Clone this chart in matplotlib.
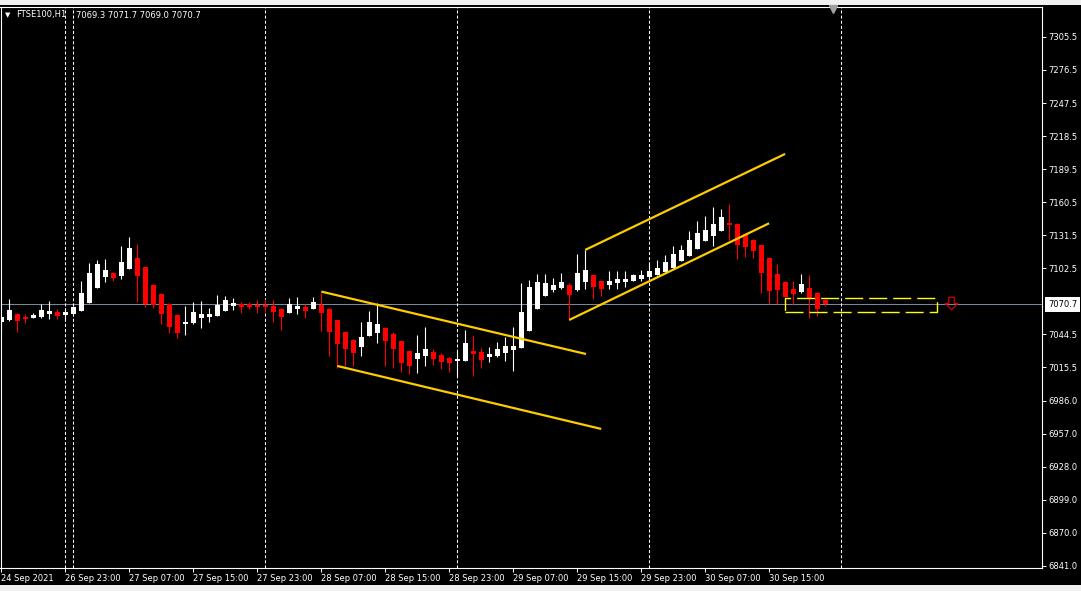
import matplotlib
matplotlib.use('Agg')
import matplotlib.pyplot as plt
import matplotlib.transforms as mtransforms
from matplotlib.patches import Rectangle
import numpy as np

# hourly FTSE100 candles, 24 Sep 2021 15:00 ... 30 Sep 2021
opens = [
    7055.2, 7057.0, 7062.3, 7059.9, 7059.0, 7059.9, 7062.5, 7064.0, 7061.4, 7062.3,
    7065.2, 7072.2, 7085.4, 7095.0, 7098.3, 7095.6, 7102.0, 7111.4, 7103.5, 7087.7,
    7079.8, 7071.0, 7061.4, 7053.5, 7054.6, 7058.8, 7059.9, 7060.8, 7065.2, 7069.6,
    7071.3, 7070.8, 7069.9, 7070.2, 7069.3, 7066.7, 7063.4, 7066.7, 7068.4, 7066.9,
    7070.4, 7066.7, 7057.0, 7046.5, 7039.4, 7033.5, 7042.9, 7045.8, 7049.7, 7044.7,
    7038.6, 7029.8, 7022.8, 7025.4, 7028.9, 7026.3, 7023.6, 7021.0, 7021.0, 7029.8,
    7028.9, 7024.5, 7025.4, 7028.0, 7030.7, 7032.4, 7047.3, 7066.7, 7078.1, 7083.3,
    7085.1, 7087.7, 7083.3, 7090.4, 7096.5, 7091.2, 7087.7, 7089.5, 7090.4, 7091.2,
    7093.0, 7094.8, 7096.5, 7099.2, 7102.7, 7108.8, 7113.2, 7119.4, 7126.4, 7130.8,
    7135.2, 7142.2, 7141.3, 7132.5, 7127.2, 7122.9, 7111.4, 7097.4, 7090.4, 7084.2,
    7081.6, 7085.1, 7080.7, 7074.6]
highs = [
    7060.9, 7075.5, 7063.4, 7062.3, 7063.2, 7071.1, 7073.7, 7066.7, 7067.9, 7069.3,
    7091.2, 7106.8, 7109.4, 7110.3, 7098.7, 7121.9, 7129.8, 7123.7, 7103.9, 7088.2,
    7080.3, 7071.5, 7061.8, 7069.3, 7072.8, 7073.7, 7067.5, 7078.9, 7078.1, 7076.3,
    7072.8, 7072.5, 7074.6, 7075.2, 7074.6, 7067.1, 7076.0, 7076.9, 7071.0, 7076.9,
    7081.0, 7067.1, 7057.4, 7046.9, 7039.9, 7055.2, 7064.9, 7071.7, 7051.1, 7046.5,
    7039.0, 7030.2, 7043.8, 7051.1, 7031.5, 7028.0, 7024.1, 7029.8, 7048.2, 7043.8,
    7032.4, 7033.3, 7037.7, 7042.1, 7050.9, 7089.5, 7092.1, 7097.4, 7097.4, 7093.9,
    7098.3, 7089.1, 7114.9, 7118.5, 7096.9, 7091.7, 7100.0, 7100.0, 7100.0, 7097.4,
    7100.9, 7107.1, 7109.7, 7114.1, 7121.9, 7122.9, 7135.2, 7143.9, 7148.3, 7156.2,
    7154.5, 7158.9, 7141.7, 7133.0, 7127.7, 7123.3, 7111.9, 7106.2, 7090.8, 7091.2,
    7097.4, 7096.5, 7081.1, 7075.0]
lows = [
    7046.7, 7056.4, 7046.7, 7054.6, 7058.8, 7059.0, 7057.6, 7057.6, 7057.0, 7061.8,
    7064.9, 7071.9, 7085.1, 7090.6, 7091.5, 7093.3, 7101.8, 7072.5, 7068.1, 7067.8,
    7053.2, 7045.3, 7041.5, 7044.1, 7053.5, 7050.2, 7055.5, 7060.5, 7064.9, 7065.8,
    7063.4, 7066.9, 7062.9, 7064.3, 7055.5, 7048.2, 7063.2, 7062.5, 7059.0, 7066.7,
    7047.3, 7025.6, 7014.6, 7016.6, 7016.9, 7025.6, 7042.5, 7037.1, 7016.9, 7014.6,
    7011.1, 7009.3, 7010.7, 7016.9, 7017.5, 7013.9, 7011.6, 7008.1, 7020.6, 7008.1,
    7014.8, 7020.1, 7024.9, 7021.0, 7012.2, 7032.0, 7046.9, 7066.2, 7077.6, 7081.6,
    7084.6, 7057.0, 7082.5, 7084.2, 7075.4, 7078.1, 7084.2, 7084.2, 7085.9, 7090.8,
    7091.2, 7093.0, 7096.1, 7098.7, 7102.2, 7108.4, 7112.8, 7118.9, 7125.9, 7121.9,
    7134.7, 7127.2, 7110.6, 7112.3, 7111.4, 7080.7, 7071.0, 7071.0, 7076.8, 7070.2,
    7081.1, 7058.8, 7060.5, 7069.3]
closes = [
    7059.9, 7065.8, 7056.4, 7058.1, 7061.4, 7065.8, 7064.9, 7060.8, 7064.4, 7068.2,
    7080.5, 7098.0, 7106.2, 7100.9, 7094.1, 7107.9, 7120.2, 7095.9, 7071.3, 7070.2,
    7062.5, 7051.1, 7045.3, 7055.2, 7064.0, 7062.3, 7061.8, 7070.4, 7074.6, 7072.2,
    7068.7, 7068.7, 7068.4, 7068.2, 7064.0, 7059.9, 7071.0, 7069.3, 7064.9, 7072.8,
    7063.2, 7046.7, 7036.2, 7031.3, 7028.3, 7041.8, 7055.2, 7053.5, 7038.8, 7031.5,
    7019.5, 7016.9, 7028.0, 7031.5, 7022.8, 7020.1, 7019.2, 7022.8, 7036.8, 7027.2,
    7021.9, 7027.2, 7031.5, 7034.2, 7034.2, 7064.0, 7086.0, 7090.4, 7089.5, 7087.7,
    7090.4, 7078.9, 7098.3, 7100.9, 7085.9, 7084.2, 7091.2, 7093.0, 7093.0, 7096.5,
    7096.5, 7100.0, 7102.7, 7107.9, 7115.0, 7118.5, 7127.2, 7133.4, 7136.0, 7141.3,
    7147.4, 7140.7, 7122.9, 7121.1, 7117.6, 7098.3, 7082.5, 7083.3, 7077.2, 7079.8,
    7088.6, 7076.3, 7066.7, 7070.7]

last_price = 7070.7
header_symbol = 'FTSE100,H1'
header_ohlc = '7069.3 7071.7 7069.0 7070.7'

# time axis (bar index -> label)
time_ticks = [0, 8, 16, 24, 32, 40, 48, 56, 64, 72, 80, 88, 96]
time_labels = ['24 Sep 2021', '26 Sep 23:00', '27 Sep 07:00', '27 Sep 15:00',
               '27 Sep 23:00', '28 Sep 07:00', '28 Sep 15:00', '28 Sep 23:00',
               '29 Sep 07:00', '29 Sep 15:00', '29 Sep 23:00', '30 Sep 07:00',
               '30 Sep 15:00']
day_separators = [8, 9, 33, 57, 81, 105]

price_ticks = [7305.5, 7276.5, 7247.5, 7218.5, 7189.5, 7160.5, 7131.5, 7102.5,
               7044.5, 7015.5, 6986.0, 6957.0, 6928.0, 6899.0, 6870.0, 6841.0]

# hand-drawn objects
desc_upper_x, desc_upper_y = [40.0, 73.1], [7081.9, 7027.1]
desc_lower_x, desc_lower_y = [42.0, 75.0], [7016.6, 6961.3]
asc_upper_x, asc_upper_y = [73.0, 98.0], [7118.5, 7202.8]
asc_lower_x, asc_lower_y = [71.0, 96.0], [7057.0, 7141.9]
zone_x = [98.0, 117.0]
zone_y = [7063.8, 7076.1]
arrow_x, arrow_y = 118.75, 7072.0

plt.rcParams['lines.scale_dashes'] = False
plt.rcParams['font.family'] = ['DejaVu Sans']

W, H = 1081, 591
fig = plt.figure(figsize=(W / 100, H / 100), dpi=100, facecolor='black')

# window strips
fig.patches.append(Rectangle((0, 1 - 5 / H), 1, 5 / H, transform=fig.transFigure,
                             facecolor='#F0F0F0', edgecolor='none'))
fig.patches.append(Rectangle((0, 0), 1, 6 / H, transform=fig.transFigure,
                             facecolor='#F0F0F0', edgecolor='none'))

ax_l, ax_r, ax_t, ax_b = 0.5, 1042, 7, 568
ax = fig.add_axes([ax_l / W, 1 - ax_b / H, (ax_r - ax_l) / W, (ax_b - ax_t) / H])
ax.set_facecolor('black')

idx = np.arange(len(opens))
o = np.array(opens)
c = np.array(closes)
hi = np.array(highs)
lo = np.array(lows)
bull = c >= o
cols = np.where(bull, 'white', '#FF0000')

# price line
ax.axhline(last_price, color='#778899', lw=0.75, zorder=1)

# day separators
for d in day_separators:
    ax.axvline(d, color='white', lw=0.75, linestyle=(0, (2.2, 1.5)), zorder=1)

# candles
ax.vlines(idx, lo, hi, colors=cols, lw=0.8, zorder=2)
body_lo = np.minimum(o, c)
body_h = np.maximum(np.abs(c - o), 0.9)
ax.bar(idx, body_h, bottom=body_lo, width=0.6, color=cols, linewidth=0, zorder=3)

# trend channels
gold = '#FFCC00'
for xs, ys in [(desc_upper_x, desc_upper_y), (desc_lower_x, desc_lower_y),
               (asc_upper_x, asc_upper_y), (asc_lower_x, asc_lower_y)]:
    ax.plot(xs, ys, color=gold, lw=1.6, solid_capstyle='butt', zorder=4)

# dashed zone
ax.add_patch(Rectangle((zone_x[0], zone_y[0]), zone_x[1] - zone_x[0], zone_y[1] - zone_y[0],
                       fill=False, edgecolor='#FFFF00', lw=1.0,
                       linestyle=(0, (13, 4.3)), zorder=4))

# hollow down arrow (sell signal)
arrow_verts = [(-0.22, 0.5), (-0.22, 0.0), (-0.5, 0.0), (0.0, -0.5),
               (0.5, 0.0), (0.22, 0.0), (0.22, 0.5), (-0.22, 0.5)]
ax.plot([arrow_x], [arrow_y], marker=arrow_verts, markersize=9,
        markerfacecolor='none', markeredgecolor='#D00000', markeredgewidth=0.9,
        linestyle='none', zorder=5)

ax.set_xlim(-0.125, 130.125)
ax.set_ylim(6839.2, 7331.8)

for s in ax.spines.values():
    s.set_color('white')
    s.set_linewidth(0.8)

ax.yaxis.tick_right()
ax.set_yticks(price_ticks)
ax.set_yticklabels(['%.1f' % p for p in price_ticks])
ax.tick_params(axis='y', colors='white', length=3, width=0.7, pad=1.5, labelsize=6)
ax.set_xticks(time_ticks)
ax.set_xticklabels(time_labels, ha='left')
ax.tick_params(axis='x', colors='white', length=3, width=0.7, pad=1.5, labelsize=6)

# current price tag
trans = mtransforms.blended_transform_factory(ax.transAxes, ax.transData)
ax.text(1 + 6 / (ax_r - ax_l), last_price, '%.1f' % last_price, transform=trans,
        color='black', fontsize=6, ha='left', va='center', clip_on=False,
        bbox=dict(boxstyle='square,pad=0.35', facecolor='white', edgecolor='none'))

# header
fig.text(5 / W, 1 - 15 / H, '\u25bc', color='white', fontsize=5, va='center')
fig.text(16 / W, 1 - 15 / H, header_symbol, color='white', fontsize=6, va='center')
fig.text(76 / W, 1 - 15 / H, header_ohlc, color='white', fontsize=6, va='center')

# chart shift marker
fig.add_artist(plt.Line2D([833 / W], [1 - 9 / H], transform=fig.transFigure,
                          marker='v', markersize=6, color='#A0A0A0', linestyle='none'))

fig.savefig('out.png', dpi=100, facecolor='black')
